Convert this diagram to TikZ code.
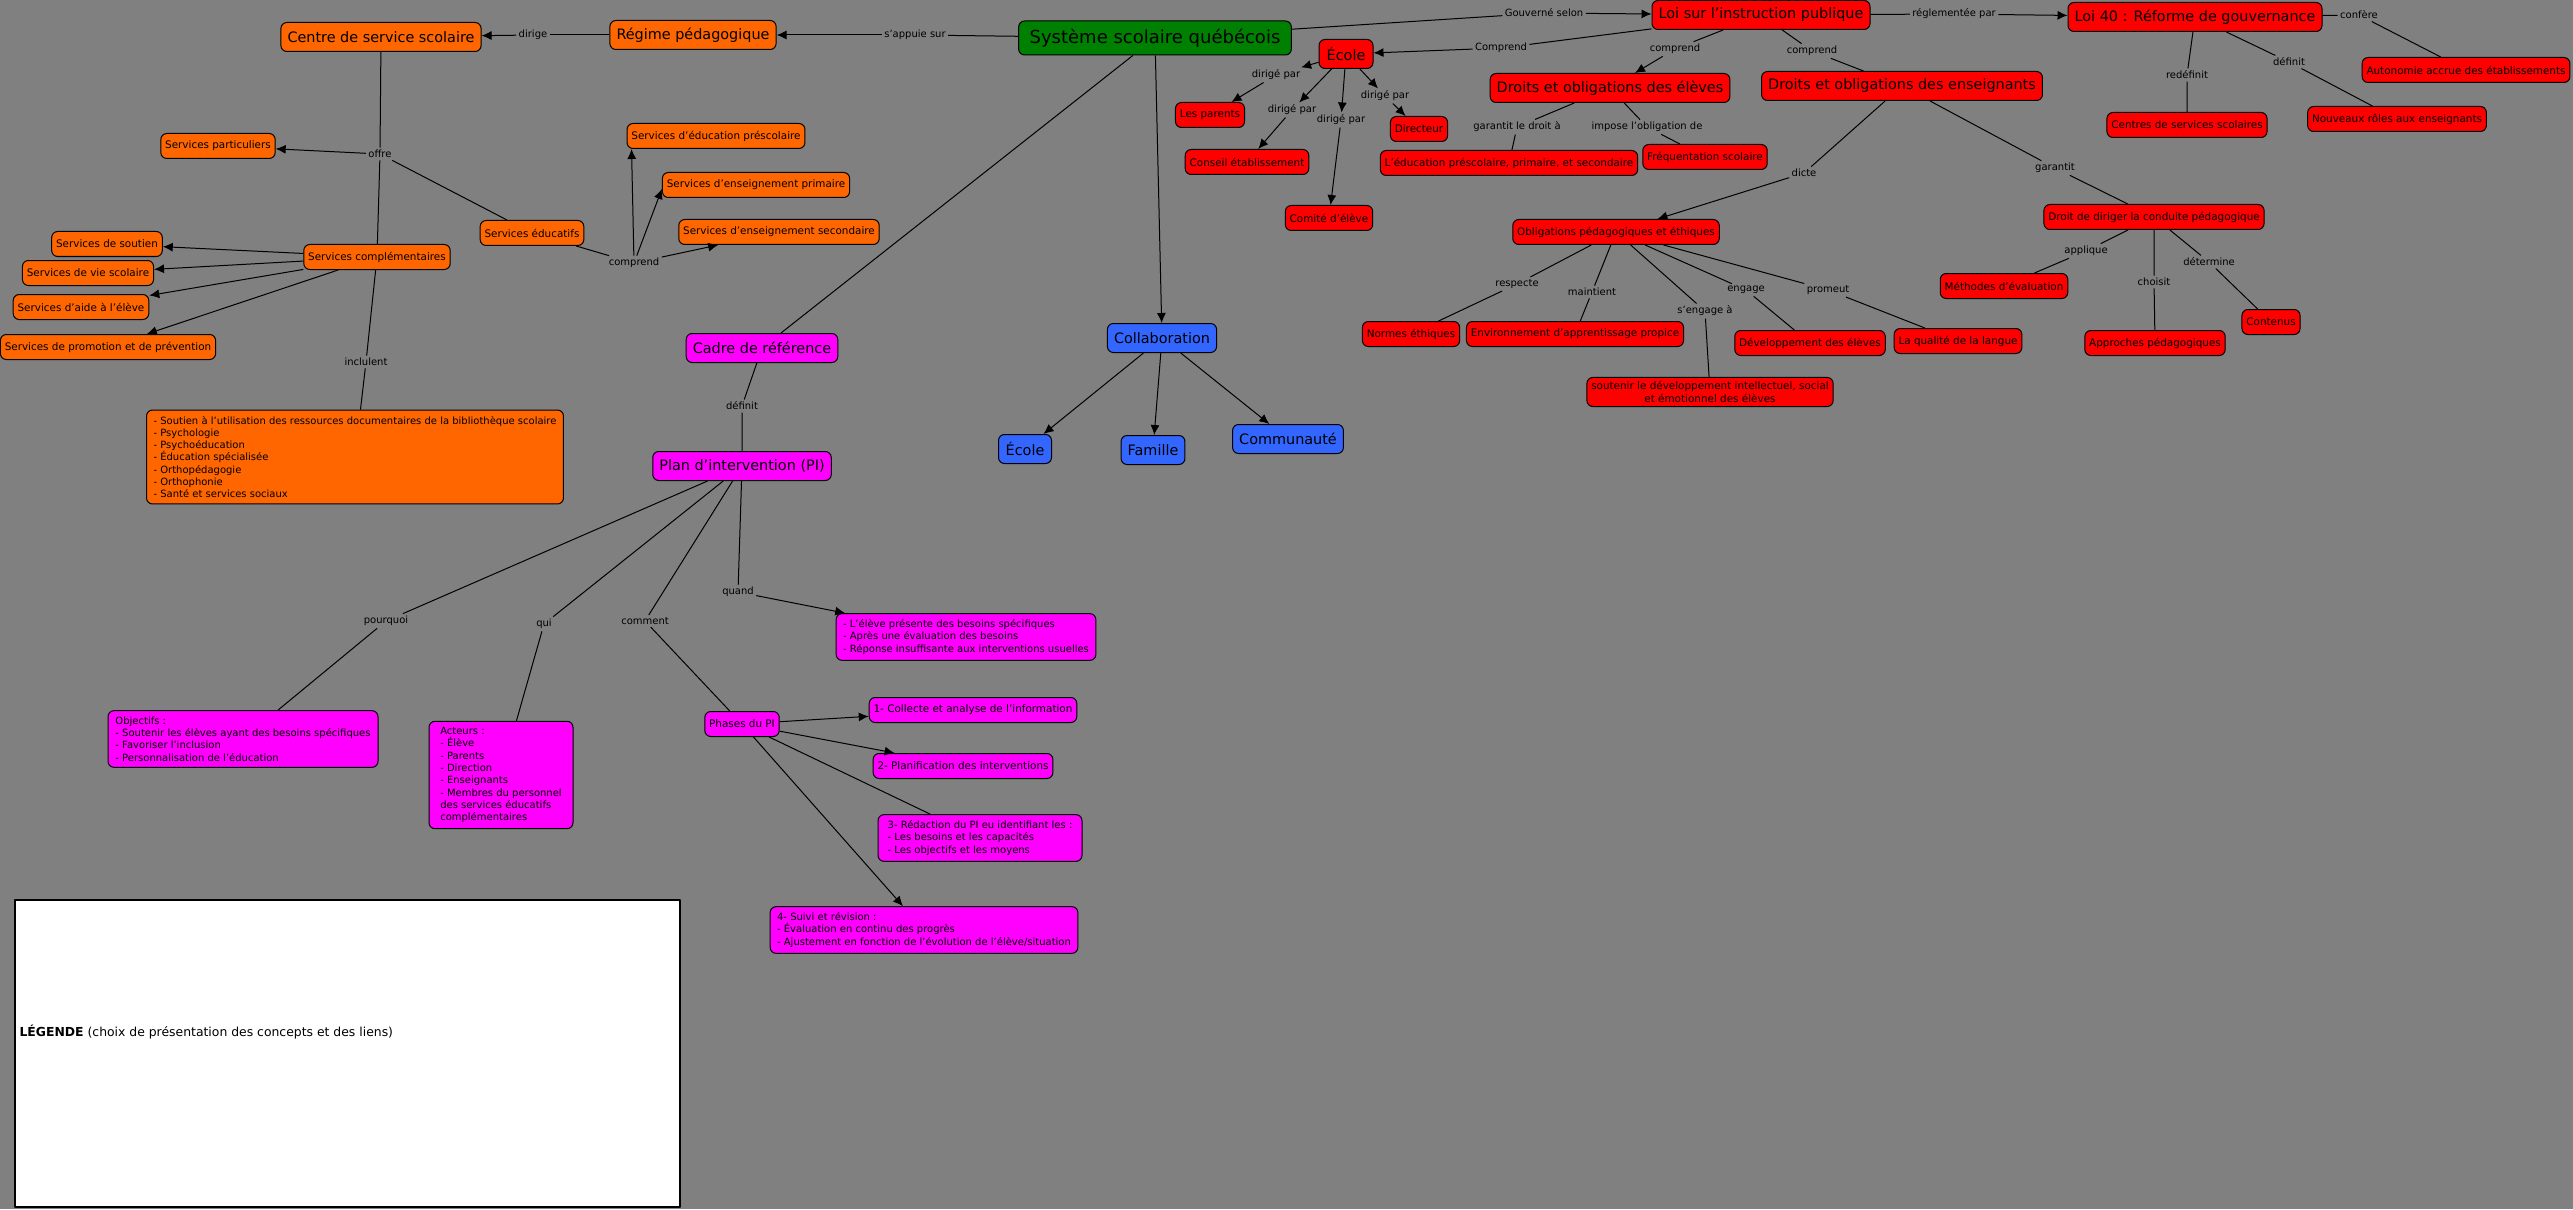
\documentclass[tikz,border=0pt]{standalone}
\usepackage{fontspec}
\setmainfont{DejaVu Sans}
\usetikzlibrary{arrows.meta}
\definecolor{fond}{HTML}{808080}
\definecolor{orangec}{HTML}{FF6600}
\definecolor{vertc}{HTML}{008000}
\definecolor{rougec}{HTML}{FF0000}
\definecolor{bleuc}{HTML}{3366FF}
\definecolor{magc}{HTML}{FF00FF}
\begin{document}
\begin{tikzpicture}[x=0.5pt, y=-0.5pt, >={Latex[length=5pt,width=4.5pt]}, line width=0.5pt, line join=round,
  petit/.style={draw=black, rounded corners=3pt, inner xsep=2.2pt, inner ysep=2pt, minimum height=12.5pt, font=\fontsize{5.2}{6.3}\selectfont},
  grand/.style={petit, inner xsep=3.3pt, minimum height=14.5pt, font=\fontsize{7.2}{8.6}\selectfont},
  liste/.style={petit, align=left, inner xsep=3.5pt, inner ysep=3pt, font=\fontsize{5}{6.15}\selectfont},
  lien/.style={inner sep=1pt, font=\fontsize{5}{6}\selectfont}]
\useasboundingbox[fill=fond] (0,0) rectangle (2573,1209);
% concept principal
\node[grand, fill=vertc, inner xsep=5.5pt, minimum height=17pt, font=\fontsize{9}{11}\selectfont] (sys) at (1155,38) {Système scolaire québécois};
% branche orange
\node[grand, fill=orangec] (css) at (381,37) {Centre de service scolaire};
\node[grand, fill=orangec] (regime) at (693,35) {Régime pédagogique};
\foreach \p/\n/\t in {(218,146)/spart/Services particuliers, (532,233)/seduc/Services éducatifs,
  (716,136)/spresco/Services d’éducation préscolaire, (756,185)/sprim/Services d’enseignement primaire,
  (779,232)/ssec/Services d’enseignement secondaire, (377,257)/scompl/Services complémentaires,
  (107,244)/ssout/Services de soutien, (88,273)/svie/Services de vie scolaire,
  (81,307)/saide/Services d'aide à l'élève, (108,347)/sprom/Services de promotion et de prévention}
  \node[petit, fill=orangec] (\n) at \p {\t};
\node[liste, fill=orangec] (slist) at (355,457) {- Soutien à l'utilisation des ressources documentaires de la bibliothèque scolaire\\- Psychologie\\- Psychoéducation\\- Éducation spécialisée\\- Orthopédagogie\\- Orthophonie\\- Santé et services sociaux};
% branche magenta
\node[grand, fill=magc] (cadre) at (762,348) {Cadre de référence};
\node[grand, fill=magc] (pi) at (742,466) {Plan d'intervention (PI)};
\node[liste, fill=magc] (quandbox) at (966,637) {- L’élève présente des besoins spécifiques\\- Après une évaluation des besoins\\- Réponse insuffisante aux interventions usuelles};
\node[liste, fill=magc, minimum width=135pt] (objbox) at (243,739) {Objectifs :\\- Soutenir les élèves ayant des besoins spécifiques\\- Favoriser l'inclusion\\- Personnalisation de l'éducation};
\node[liste, fill=magc, minimum width=72pt] (actbox) at (501,775) {Acteurs :\\- Élève\\- Parents\\- Direction\\- Enseignants\\- Membres du personnel\\des services éducatifs\\complémentaires};
\node[petit, fill=magc] (phases) at (742,724) {Phases du PI};
\node[petit, fill=magc] (ph1) at (973,710) {1- Collecte et analyse de l'information};
\node[petit, fill=magc] (ph2) at (963,766) {2- Planification des interventions};
\node[liste, fill=magc, minimum width=102pt] (ph3) at (980,838) {3- Rédaction du PI eu identifiant les :\\- Les besoins et les capacités\\- Les objectifs et les moyens};
\node[liste, fill=magc] (ph4) at (924,930) {4- Suivi et révision :\\- Évaluation en continu des progrès\\- Ajustement en fonction de l'évolution de l'élève/situation};
% branche bleue
\node[grand, fill=bleuc] (collab) at (1162,338) {Collaboration};
\node[grand, fill=bleuc, minimum width=26.5pt] (becole) at (1025,449) {École};
\node[grand, fill=bleuc] (famille) at (1153,450) {Famille};
\node[grand, fill=bleuc] (commun) at (1288,439) {Communauté};
% branche rouge
\node[grand, fill=rougec, minimum width=27pt] (ecole) at (1346,54) {École};
\node[grand, fill=rougec] (lip) at (1761,15) {Loi sur l'instruction publique};
\node[grand, fill=rougec] (loi40) at (2195,17) {Loi 40 : Réforme de gouvernance};
\node[grand, fill=rougec] (dre) at (1610,88) {Droits et obligations des élèves};
\node[grand, fill=rougec] (drens) at (1902,86) {Droits et obligations des enseignants};
\foreach \p/\n/\t in {(2466,70)/autonomie/Autonomie accrue des établissements, (2397,119)/roles/Nouveaux rôles aux enseignants,
  (2187,125)/centres/Centres de services scolaires, (1210,115)/parents/Les parents,
  (1247,162)/conseil/Conseil établissement, (1329,218)/comite/Comité d'élève, (1419,129)/directeur/Directeur,
  (1509,163)/educ/{L'éducation préscolaire, primaire, et secondaire}, (1705,157)/freq/Fréquentation scolaire,
  (1616,232)/oblig/Obligations pédagogiques et éthiques, (2154,217)/ddc/Droit de diriger la conduite pédagogique,
  (1411,334)/normes/Normes éthiques, (1575,334)/envir/Environnement d'apprentissage propice,
  (1810,343)/devel/Développement des élèves, (1958,341)/qualite/La qualité de la langue,
  (2004,286)/methodes/Méthodes d'évaluation, (2155,343)/approches/Approches pédagogiques, (2271,322)/contenus/Contenus}
  \node[petit, fill=rougec] (\n) at \p {\t};
\node[petit, fill=rougec, align=center] (soutenir) at (1710,392) {soutenir le développement intellectuel, social\\et émotionnel des élèves};
% mots de liaison
\foreach \p/\n/\t in {(915,35)/l_appuie/s'appuie sur, (533,35)/l_dirige/dirige, (380,154)/l_offre/offre,
  (634,263)/l_compr/comprend, (366,362)/l_incl/inclulent, (1544,13)/l_gouv/Gouverné selon,
  (1501,48)/l_Compr/Comprend, (1675,49)/l_compra/comprend, (1812,51)/l_comprb/comprend,
  (1954,14)/l_regl/réglementée par, (2359,15)/l_conf/confère, (2187,75)/l_redef/redéfinit, (2289,62)/l_def/définit,
  (1276,75)/l_dpa/dirigé par, (1292,110)/l_dpb/dirigé par, (1341,120)/l_dpc/dirigé par, (1385,96)/l_dpd/dirigé par,
  (1517,127)/l_garant/garantit le droit à, (1647,127)/l_impose/impose l'obligation de,
  (1804,173)/l_dicte/dicte, (2055,168)/l_garantit/garantit,
  (1517,284)/l_resp/respecte, (1592,292)/l_maint/maintient, (1705,311)/l_seng/s'engage à,
  (1746,290)/l_eng/engage, (1828,290)/l_prom/promeut,
  (2086,251)/l_appl/applique, (2154,282)/l_choisit/choisit, (2209,262)/l_determ/détermine,
  (742,406)/l_definit/définit, (386,621)/l_pourquoi/pourquoi, (544,624)/l_qui/qui,
  (645,621)/l_comment/comment, (738,592)/l_quand/quand}
  \node[lien] (\n) at \p {\t};
% liens orange
\draw (sys) -- (l_appuie); \draw[->] (l_appuie) -- (regime);
\draw (regime) -- (l_dirige); \draw[->] (l_dirige) -- (css);
\draw (css) -- (l_offre) (l_offre) -- (scompl) (l_offre) -- (seduc);
\draw[->] (l_offre) -- (spart);
\draw (seduc) -- (l_compr);
\draw[->] (l_compr) -- ([xshift=2.5pt]spresco.south west);
\draw[->] (l_compr) -- ([yshift=-2pt]sprim.west);
\draw[->] (l_compr) -- (ssec);
\foreach \t in {ssout, svie, saide, sprom} \draw[->] (scompl) -- (\t);
\draw (scompl) -- (l_incl) (l_incl) -- (slist);
% liens magenta
\draw (sys) -- (cadre);
\draw (cadre) -- (l_definit) (l_definit) -- (pi);
\foreach \l/\t in {l_pourquoi/objbox, l_qui/actbox, l_comment/phases} \draw (pi) -- (\l) (\l) -- (\t);
\draw (pi) -- (l_quand); \draw[->] (l_quand) -- (quandbox);
\foreach \t in {ph1, ph2, ph4} \draw[->] (phases) -- (\t);
\draw (phases) -- (ph3);
% liens bleus
\draw[->] (sys) -- (collab);
\foreach \t in {becole, famille, commun} \draw[->] (collab) -- (\t);
% liens rouges
\draw (sys) -- (l_gouv); \draw[->] (l_gouv) -- (lip);
\draw (lip) -- (l_Compr); \draw[->] (l_Compr) -- (ecole);
\draw (lip) -- (l_compra); \draw[->] (l_compra) -- (dre);
\draw (lip) -- (l_comprb) (l_comprb) -- (drens);
\draw (lip) -- (l_regl); \draw[->] (l_regl) -- (loi40);
\foreach \l/\t in {l_conf/autonomie, l_redef/centres, l_def/roles} \draw (loi40) -- (\l) (\l) -- (\t);
\foreach \l/\t in {l_dpa/parents, l_dpb/conseil, l_dpc/comite, l_dpd/directeur} {
  \draw[->] (ecole) -- (\l); \draw[->] (\l) -- (\t);}
\draw (dre) -- (l_garant) (l_garant) -- (educ);
\draw (dre) -- (l_impose) (l_impose) -- (freq);
\draw (drens) -- (l_dicte); \draw[->] (l_dicte) -- (oblig);
\draw (drens) -- (l_garantit) (l_garantit) -- (ddc);
\foreach \l/\t in {l_resp/normes, l_maint/envir, l_seng/soutenir, l_eng/devel, l_prom/qualite}
  \draw (oblig) -- (\l) (\l) -- (\t);
\foreach \l/\t in {l_appl/methodes, l_choisit/approches, l_determ/contenus}
  \draw (ddc) -- (\l) (\l) -- (\t);
% legende
\node[draw=black, line width=0.8pt, fill=white, anchor=north west, minimum width=332.5pt, minimum height=153.5pt, inner sep=0pt] (legende) at (14,899) {};
\node[anchor=west, inner sep=0pt, font=\fontsize{6.2}{7.5}\selectfont] (legtexte) at (19,1032) {\textbf{LÉGENDE} (choix de présentation des concepts et des liens)};
\end{tikzpicture}
\end{document}
